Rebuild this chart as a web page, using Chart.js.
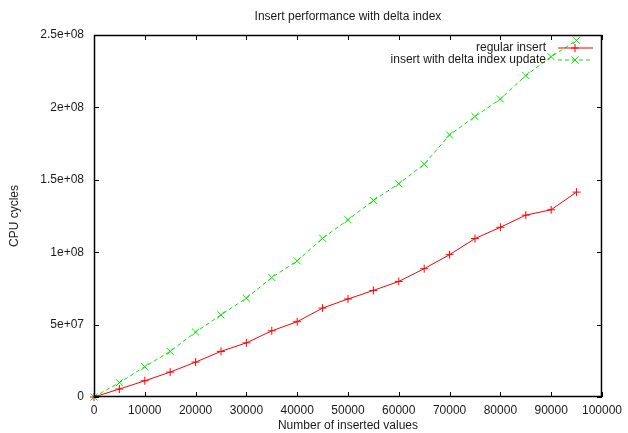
<!DOCTYPE html>
<html>
<head>
<meta charset="utf-8">
<script src="https://cdn.jsdelivr.net/npm/chart.js@4/dist/chart.umd.min.js"></script>
<style>html,body{margin:0;padding:0;background:#fff;}</style>
</head>
<body>
<canvas id="myChart" width="628" height="433"></canvas>
<script>
   // values
   var insertedValues = [0, 5000, 10000, 15000, 20000, 25000, 30000, 35000, 40000, 45000,
                         50000, 55000, 60000, 65000, 70000, 75000, 80000, 85000, 90000, 95000];
   var regularInsert = [0, 5.5e6, 1.12e7, 1.72e7, 2.41e7, 3.15e7, 3.74e7, 4.57e7, 5.2e7, 6.14e7,
                        6.77e7, 7.36e7, 7.98e7, 8.86e7, 9.83e7, 1.094e8, 1.172e8, 1.256e8, 1.293e8, 1.415e8];
   var deltaInsert = [0, 9.9e6, 2.09e7, 3.15e7, 4.48e7, 5.67e7, 6.83e7, 8.25e7, 9.4e7, 1.096e8,
                      1.224e8, 1.357e8, 1.473e8, 1.607e8, 1.81e8, 1.937e8, 2.058e8, 2.22e8, 2.35e8, 2.463e8];
   var seriesNames = ['regular insert', 'insert with delta index update'];
   var xTicks = [0, 10000, 20000, 30000, 40000, 50000, 60000, 70000, 80000, 90000, 100000];
   var yTicks = [0, 5e7, 1e8, 1.5e8, 2e8, 2.5e8];
   var yTickLabels = ['0', '5e+07', '1e+08', '1.5e+08', '2e+08', '2.5e+08'];

   var titleText = 'Insert performance with delta index';
   var xTitle = 'Number of inserted values';
   var yTitle = 'CPU cycles';
   var fontFamily = '"Liberation Sans", Arial, sans-serif';
   var textColor = '#1a1a1a';
   var colors = ['#ff0000', '#00e600'];
   var dashes = [[], [4, 3]];
   var markers = ['cross', 'crossRot'];
   var markerSizes = [4, 5];

   function points(values) {
       var out = [];
       for (var i = 0; i < values.length; i++) {
           out.push({x: insertedValues[i], y: values[i]});
       }
       return out;
   }

   // gnuplot look: frame, inward ticks, titles and the legend in the top right
   var gnuplotFrame = {
       id: 'gnuplotFrame',
       afterDraw: function(chart) {
           var ctx = chart.ctx;
           var a = chart.chartArea;
           var xs = chart.scales.x, ys = chart.scales.y;
           var tl = 5;
           ctx.save();
           ctx.strokeStyle = '#000';
           ctx.lineWidth = 1;
           ctx.beginPath();
           xTicks.forEach(function(v) {
               var px = Math.round(xs.getPixelForValue(v)) + 0.5;
               ctx.moveTo(px, a.bottom); ctx.lineTo(px, a.bottom - tl);
               ctx.moveTo(px, a.top); ctx.lineTo(px, a.top + tl);
           });
           yTicks.forEach(function(v) {
               var py = Math.round(ys.getPixelForValue(v)) + 0.5;
               ctx.moveTo(a.left, py); ctx.lineTo(a.left + tl, py);
               ctx.moveTo(a.right, py); ctx.lineTo(a.right - tl, py);
           });
           ctx.stroke();
           ctx.lineWidth = 1.5;
           ctx.strokeRect(a.left + 0.5, a.top + 0.5, a.right - a.left - 1, a.bottom - a.top - 1);

           ctx.fillStyle = textColor;
           ctx.font = '12px ' + fontFamily;
           ctx.textAlign = 'center';
           ctx.textBaseline = 'middle';
           var cx = (a.left + a.right) / 2;
           ctx.fillText(titleText, cx, 17);
           ctx.fillText(xTitle, cx, 426);
           ctx.save();
           ctx.translate(15, (a.top + a.bottom) / 2);
           ctx.rotate(-Math.PI / 2);
           ctx.fillText(yTitle, 0, 0);
           ctx.restore();

           // legend
           var rows = [48, 60];
           ctx.lineWidth = 1.2;
           for (var i = 0; i < seriesNames.length; i++) {
               var y = rows[i];
               ctx.fillStyle = textColor;
               ctx.textAlign = 'right';
               ctx.fillText(seriesNames[i], 546, y - 0.5);
               ctx.strokeStyle = colors[i];
               ctx.setLineDash(dashes[i]);
               ctx.beginPath();
               ctx.moveTo(558, y);
               ctx.lineTo(593, y);
               ctx.stroke();
               ctx.setLineDash([]);
               ctx.lineWidth = 1;
               Chart.helpers.drawPoint(ctx, {
                   pointStyle: markers[i], radius: markerSizes[i],
                   rotation: 0, borderWidth: 1
               }, 575, y);
               ctx.lineWidth = 1.2;
           }
           ctx.restore();
       }
   };

   var datasets = [regularInsert, deltaInsert].map(function(values, i) {
       return {
           label: seriesNames[i],
           data: points(values),
           borderColor: colors[i],
           backgroundColor: colors[i],
           borderWidth: 1,
           borderDash: dashes[i],
           pointStyle: markers[i],
           pointRadius: markerSizes[i],
           pointBorderWidth: 1,
           fill: false,
           tension: 0,
           clip: false
       };
   });

   var ctx = document.getElementById('myChart').getContext('2d');
   var chart = new Chart(ctx, {
       type: 'line',
       data: {datasets: datasets},
       options: {
           responsive: false,
           animation: false,
           devicePixelRatio: 1,
           layout: {padding: {left: 0, top: 35, right: 22, bottom: 0}},
           plugins: {
               legend: {display: false},
               title: {display: false},
               tooltip: {enabled: false}
           },
           scales: {
               x: {
                   type: 'linear',
                   min: 0,
                   max: 100000,
                   afterBuildTicks: function(s) { s.ticks = xTicks.map(function(v) { return {value: v}; }); },
                   afterFit: function(s) { s.height = 36; },
                   grid: {display: false, drawTicks: false},
                   border: {display: false},
                   ticks: {
                       color: textColor,
                       font: {family: fontFamily, size: 12},
                       padding: 6,
                       maxRotation: 0,
                       autoSkip: false,
                       callback: function(v) { return String(v); }
                   }
               },
               y: {
                   type: 'linear',
                   min: 0,
                   max: 2.5e8,
                   afterBuildTicks: function(s) { s.ticks = yTicks.map(function(v) { return {value: v}; }); },
                   afterFit: function(s) { s.width = 94; },
                   grid: {display: false, drawTicks: false},
                   border: {display: false},
                   ticks: {
                       color: textColor,
                       font: {family: fontFamily, size: 12},
                       padding: 10,
                       autoSkip: false,
                       callback: function(v, i) { return yTickLabels[i]; }
                   }
               }
           }
       },
       plugins: [gnuplotFrame]
   });
</script>
</body>
</html>
